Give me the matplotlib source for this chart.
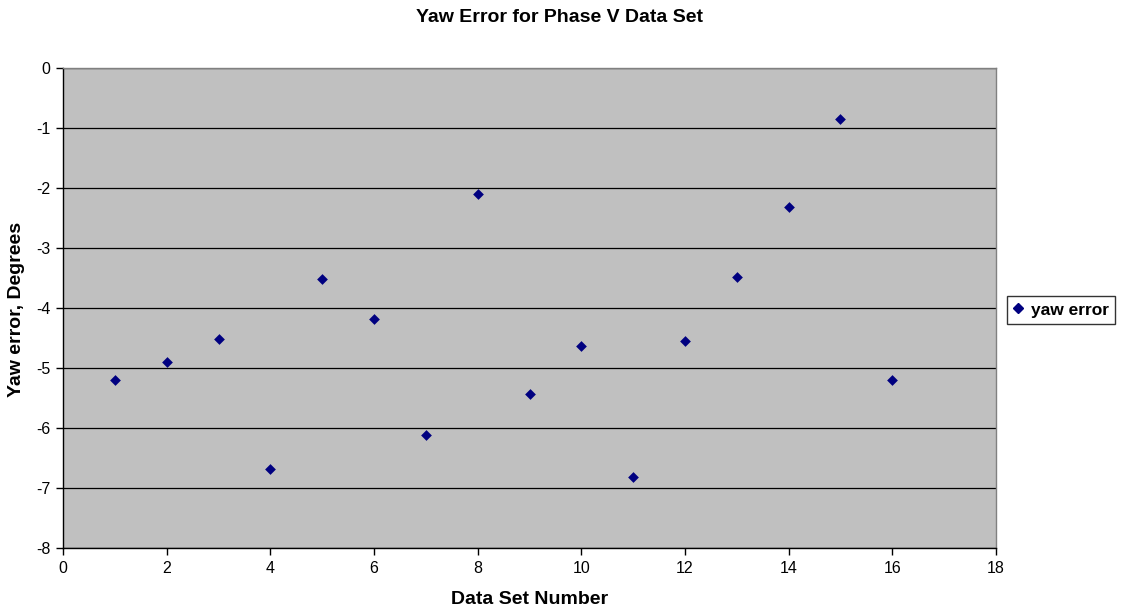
import matplotlib
matplotlib.use("Agg")
import matplotlib.pyplot as plt
from matplotlib.lines import Line2D

plt.rcParams['font.family'] = ['Liberation Sans', 'DejaVu Sans']
plt.rcParams['axes.unicode_minus'] = False

data_set = [1, 2, 3, 4, 5, 6, 7, 8, 9, 10, 11, 12, 13, 14, 15, 16]
yaw_error = [-5.20, -4.90, -4.51, -6.67, -3.51, -4.18, -6.11, -2.10,
             -5.43, -4.62, -6.81, -4.55, -3.48, -2.31, -0.85, -5.20]
x_ticks = [0, 2, 4, 6, 8, 10, 12, 14, 16, 18]
y_ticks = [0, -1, -2, -3, -4, -5, -6, -7, -8]

fig = plt.figure(figsize=(11.26, 6.15), dpi=100)
ax = fig.add_axes([0.056, 0.1084, 0.8285, 0.7806])
ax.set_facecolor('#c0c0c0')
ax.set_xlim(0, 18)
ax.set_ylim(-8, 0)
ax.set_xticks(x_ticks)
ax.set_yticks(y_ticks)
ax.yaxis.grid(True, color='black', linewidth=0.9)
ax.set_axisbelow(True)
for s in ['top', 'right']:
    ax.spines[s].set_color('#808080')
    ax.spines[s].set_linewidth(1.0)
for s in ['left', 'bottom']:
    ax.spines[s].set_color('black')
    ax.spines[s].set_linewidth(1.0)
ax.tick_params(direction='out', length=5, width=1, labelsize=11.5, colors='black', pad=4)

ax.scatter(data_set, yaw_error, marker='D', s=30, color='#000080', zorder=3,
           label='yaw error', linewidths=0)

fig.text(560 / 1126, 1 - 17 / 615, 'Yaw Error for Phase V Data Set',
         fontsize=14, fontweight='bold', ha='center', va='center')
fig.text(0.5 * (63 + 996) / 1126, 1 - 600 / 615, 'Data Set Number',
         fontsize=14, fontweight='bold', ha='center', va='center')
fig.text(17 / 1126, 1 - 309 / 615, 'Yaw error, Degrees',
         fontsize=14, fontweight='bold', ha='center', va='center', rotation=90)

handle = Line2D([], [], marker='D', linestyle='none', color='#000080', markersize=5)
leg = fig.legend([handle], ['yaw error'], loc='center left',
                 bbox_to_anchor=(1007 / 1126, 1 - 310 / 615),
                 prop={'size': 12.5, 'weight': 'bold'}, frameon=True, fancybox=False,
                 edgecolor='black', handlelength=0.6, handletextpad=0.45,
                 borderpad=0.35, borderaxespad=0)
leg.get_frame().set_linewidth(1.0)

fig.savefig('out.png', dpi=100)
